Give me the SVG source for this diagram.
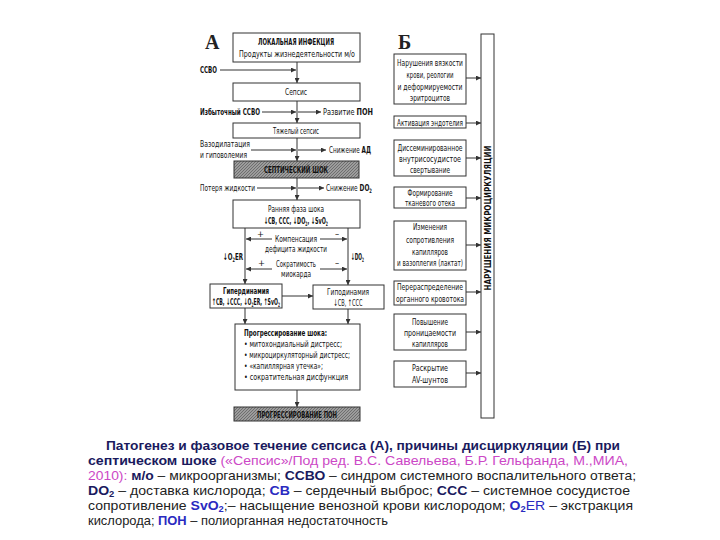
<svg xmlns="http://www.w3.org/2000/svg" width="720" height="540" viewBox="0 0 720 540">
<defs>
<style>
.t{font-family:"Liberation Sans Narrow","Arial Narrow","DejaVu Sans Condensed","Liberation Sans",sans-serif;font-size:9.3px;fill:#111}
.b{font-weight:bold}
.m{text-anchor:middle}
.box{fill:#fff;stroke:#333;stroke-width:1}
.hat{fill:url(#hatch);stroke:#333;stroke-width:1}
.ar{stroke:#333;stroke-width:1;fill:none;marker-end:url(#ah)}
.big{font-family:"Liberation Serif",serif;font-weight:bold;font-size:20px;fill:#222}
.cap{font-family:"Liberation Sans",Arial,sans-serif;font-size:13.5px;fill:#222}
.nv{font-weight:bold;fill:#1a1a5e}
.bl{font-weight:bold;fill:#2a2ac0}
.mg{fill:#cc48c6}
</style>
<marker id="ah" viewBox="0 0 6 6" refX="6" refY="3" markerWidth="5" markerHeight="5" orient="auto" markerUnits="userSpaceOnUse">
<path d="M0,0 L6,3 L0,6 z" fill="#333"/>
</marker>
<pattern id="hatch" patternUnits="userSpaceOnUse" width="3" height="3">
<rect width="3" height="3" fill="#9c9c9c"/>
<path d="M0,3 L3,0" stroke="#6e6e6e" stroke-width="1"/>
</pattern>
</defs>
<rect width="720" height="540" fill="#fff"/>

<text class="big" x="205" y="49">А</text>
<text class="big" x="398" y="49">Б</text>

<g id="connectors">
<line class="ar" x1="297" y1="62" x2="297" y2="83"/>
<line class="ar" x1="297" y1="101" x2="297" y2="123"/>
<line class="ar" x1="297" y1="138" x2="297" y2="161"/>
<line class="ar" x1="297" y1="178" x2="297" y2="200"/>
<line class="ar" x1="220" y1="70" x2="296" y2="70"/>
<line class="ar" x1="262" y1="112" x2="296" y2="112"/>
<line class="ar" x1="298" y1="112" x2="321" y2="112"/>
<line class="ar" x1="251" y1="150" x2="296" y2="150"/>
<line class="ar" x1="298" y1="150" x2="326" y2="150"/>
<line class="ar" x1="257" y1="188" x2="296" y2="188"/>
<line class="ar" x1="298" y1="188" x2="324" y2="188"/>
<line class="ar" x1="245" y1="228" x2="245" y2="284"/>
<line class="ar" x1="348" y1="228" x2="348" y2="285"/>
<line class="ar" x1="272" y1="239" x2="246" y2="239"/>
<line class="ar" x1="320" y1="239" x2="347" y2="239"/>
<line class="ar" x1="272" y1="269" x2="246" y2="269"/>
<line class="ar" x1="320" y1="269" x2="347" y2="269"/>
<line class="ar" x1="282" y1="296" x2="313" y2="296"/>
<line class="ar" x1="245" y1="308" x2="245" y2="324"/>
<line class="ar" x1="348" y1="309" x2="348" y2="324"/>
<line class="ar" x1="297" y1="390" x2="297" y2="407"/>
<line class="ar" x1="466" y1="78" x2="481" y2="78"/>
<line class="ar" x1="466" y1="123" x2="481" y2="123"/>
<line class="ar" x1="466" y1="158" x2="481" y2="158"/>
<line class="ar" x1="466" y1="198" x2="481" y2="198"/>
<line class="ar" x1="466" y1="245" x2="481" y2="245"/>
<line class="ar" x1="466" y1="292" x2="481" y2="292"/>
<line class="ar" x1="466" y1="332" x2="481" y2="332"/>
<line class="ar" x1="466" y1="373" x2="481" y2="373"/>
</g>

<g id="side-labels">
<text class="t b" x="200" y="73" textLength="17" lengthAdjust="spacingAndGlyphs">ССВО</text>
<text class="t b" x="200" y="115" textLength="60" lengthAdjust="spacingAndGlyphs">Избыточный ССВО</text>
<text class="t" x="323" y="115" textLength="50" lengthAdjust="spacingAndGlyphs">Развитие <tspan class="b">ПОН</tspan></text>
<text class="t" x="200" y="147" textLength="50" lengthAdjust="spacingAndGlyphs">Вазодилатация</text>
<text class="t" x="200" y="158" textLength="47" lengthAdjust="spacingAndGlyphs">и гиповолемия</text>
<text class="t" x="329" y="153" textLength="42" lengthAdjust="spacingAndGlyphs">Снижение <tspan class="b">АД</tspan></text>
<text class="t" x="200" y="191" textLength="55" lengthAdjust="spacingAndGlyphs">Потеря жидкости</text>
<text class="t" x="326" y="191" textLength="46" lengthAdjust="spacingAndGlyphs">Снижение <tspan class="b">DO<tspan font-size="6" baseline-shift="-2">2</tspan></tspan></text>
<text class="t" x="257" y="237">+</text>
<text class="t" x="335" y="237">–</text>
<text class="t m" x="296" y="242" textLength="42" lengthAdjust="spacingAndGlyphs">Компенсация</text>
<text class="t m" x="296" y="252" textLength="62" lengthAdjust="spacingAndGlyphs">дефицита жидкости</text>
<text class="t" x="258" y="266">+</text>
<text class="t" x="335" y="266">–</text>
<text class="t m" x="296" y="267" textLength="40" lengthAdjust="spacingAndGlyphs">Сократимость</text>
<text class="t m" x="296" y="277" textLength="30" lengthAdjust="spacingAndGlyphs">миокарда</text>
<text class="t b" x="223" y="260" textLength="20" lengthAdjust="spacingAndGlyphs">↓O<tspan font-size="6" baseline-shift="-2">2</tspan>ER</text>
<text class="t b" x="351" y="260" textLength="13" lengthAdjust="spacingAndGlyphs">↓DO<tspan font-size="6" baseline-shift="-2">2</tspan></text>
</g>

<g id="n-local"><rect class="box" x="233" y="33" width="127" height="29"/>
<text class="t b m" x="296" y="45" textLength="76" lengthAdjust="spacingAndGlyphs">ЛОКАЛЬНАЯ ИНФЕКЦИЯ</text>
<text class="t m" x="297" y="57" textLength="116" lengthAdjust="spacingAndGlyphs">Продукты жизнедеятельности м/о</text></g>
<g id="n-sepsis"><rect class="box" x="233" y="83" width="127" height="18"/>
<text class="t m" x="296" y="95" textLength="22" lengthAdjust="spacingAndGlyphs">Сепсис</text></g>
<g id="n-severe"><rect class="box" x="233" y="123" width="127" height="15"/>
<text class="t m" x="296" y="134" textLength="46" lengthAdjust="spacingAndGlyphs">Тяжелый сепсис</text></g>
<g id="n-shock"><rect class="hat" x="234" y="161" width="125" height="17"/>
<text class="t b m" x="296" y="173" style="fill:#111" textLength="64" lengthAdjust="spacingAndGlyphs">СЕПТИЧЕСКИЙ ШОК</text></g>
<g id="n-early"><rect class="box" x="233" y="200" width="127" height="28"/>
<text class="t m" x="296" y="212" textLength="56" lengthAdjust="spacingAndGlyphs">Ранняя фаза шока</text>
<text class="t b m" x="296" y="224" textLength="64" lengthAdjust="spacingAndGlyphs">↓СВ, ССС, ↓DO<tspan font-size="6" baseline-shift="-2">2</tspan>, ↓SvO<tspan font-size="6" baseline-shift="-2">2</tspan></text></g>
<g id="n-hyper"><rect class="box" x="210" y="284" width="72" height="24"/>
<text class="t b m" x="246" y="294" textLength="46" lengthAdjust="spacingAndGlyphs">Гипердинамия</text>
<text class="t b m" x="246" y="305" textLength="68" lengthAdjust="spacingAndGlyphs">↑СВ, ↓ССС, ↓O<tspan font-size="6" baseline-shift="-2">2</tspan>ER, ↑SvO<tspan font-size="6" baseline-shift="-2">2</tspan></text></g>
<g id="n-hypo"><rect class="box" x="313" y="285" width="71" height="24"/>
<text class="t m" x="348" y="295" textLength="42" lengthAdjust="spacingAndGlyphs">Гиподинамия</text>
<text class="t m" x="348" y="306" textLength="29" lengthAdjust="spacingAndGlyphs">↓СВ, ↑ССС</text></g>
<g id="n-progress"><rect class="box" x="235" y="324" width="125" height="66"/>
<text class="t b" x="244" y="336" textLength="83" lengthAdjust="spacingAndGlyphs">Прогрессирование шока:</text>
<text class="t" x="244" y="347" textLength="98" lengthAdjust="spacingAndGlyphs">• митохондиальный дистресс;</text>
<text class="t" x="244" y="358" textLength="106" lengthAdjust="spacingAndGlyphs">• микроциркуляторный дистресс;</text>
<text class="t" x="244" y="369" textLength="79" lengthAdjust="spacingAndGlyphs">• «капиллярная утечка»;</text>
<text class="t" x="244" y="380" textLength="104" lengthAdjust="spacingAndGlyphs">• сократительная дисфункция</text></g>
<g id="n-pon"><rect class="hat" x="234" y="407" width="126" height="14"/>
<text class="t b m" x="297" y="417.5" style="fill:#111" textLength="80" lengthAdjust="spacingAndGlyphs">ПРОГРЕССИРОВАНИЕ ПОН</text></g>

<g id="n-micro"><rect class="box" x="481" y="34" width="13" height="384"/>
<text class="t b m" transform="translate(491,218) rotate(-90)" textLength="145" lengthAdjust="spacingAndGlyphs">НАРУШЕНИЯ МИКРОЦИРКУЛЯЦИИ</text></g>
<g id="r1"><rect class="box" x="394" y="54" width="72" height="50"/>
<text class="t m" x="430" y="66" textLength="66" lengthAdjust="spacingAndGlyphs">Нарушения вязкости</text>
<text class="t m" x="430" y="78" textLength="47" lengthAdjust="spacingAndGlyphs">крови, реологии</text>
<text class="t m" x="430" y="90" textLength="65" lengthAdjust="spacingAndGlyphs">и деформируемости</text>
<text class="t m" x="430" y="101" textLength="40" lengthAdjust="spacingAndGlyphs">эритроцитов</text></g>
<g id="r2"><rect class="box" x="394" y="116" width="72" height="12"/>
<text class="t m" x="430" y="125.5" textLength="66" lengthAdjust="spacingAndGlyphs">Активация эндотелия</text></g>
<g id="r3"><rect class="box" x="394" y="140" width="72" height="36"/>
<text class="t m" x="430" y="151" textLength="65" lengthAdjust="spacingAndGlyphs">Диссеминированное</text>
<text class="t m" x="430" y="162" textLength="62" lengthAdjust="spacingAndGlyphs">внутрисосудистое</text>
<text class="t m" x="430" y="173" textLength="40" lengthAdjust="spacingAndGlyphs">свертывание</text></g>
<g id="r4"><rect class="box" x="394" y="187" width="72" height="21"/>
<text class="t m" x="430" y="196" textLength="45" lengthAdjust="spacingAndGlyphs">Формирование</text>
<text class="t m" x="430" y="206" textLength="50" lengthAdjust="spacingAndGlyphs">тканевого отека</text></g>
<g id="r5"><rect class="box" x="394" y="221" width="72" height="49"/>
<text class="t m" x="430" y="230" textLength="34" lengthAdjust="spacingAndGlyphs">Изменения</text>
<text class="t m" x="430" y="243" textLength="48" lengthAdjust="spacingAndGlyphs">сопротивления</text>
<text class="t m" x="430" y="255" textLength="36" lengthAdjust="spacingAndGlyphs">капилляров</text>
<text class="t m" x="430" y="266" textLength="66" lengthAdjust="spacingAndGlyphs">и вазоплегия (лактат)</text></g>
<g id="r6"><rect class="box" x="394" y="281" width="72" height="24"/>
<text class="t m" x="430" y="290" textLength="66" lengthAdjust="spacingAndGlyphs">Перераспределение</text>
<text class="t m" x="430" y="302" textLength="68" lengthAdjust="spacingAndGlyphs">органного кровотока</text></g>
<g id="r7"><rect class="box" x="394" y="314" width="72" height="36"/>
<text class="t m" x="430" y="325" textLength="36" lengthAdjust="spacingAndGlyphs">Повышение</text>
<text class="t m" x="430" y="336" textLength="52" lengthAdjust="spacingAndGlyphs">проницаемости</text>
<text class="t m" x="430" y="347" textLength="36" lengthAdjust="spacingAndGlyphs">капилляров</text></g>
<g id="r8"><rect class="box" x="394" y="361" width="72" height="26"/>
<text class="t m" x="430" y="371" textLength="36" lengthAdjust="spacingAndGlyphs">Раскрытие</text>
<text class="t m" x="430" y="383" textLength="36" lengthAdjust="spacingAndGlyphs">AV-шунтов</text></g>

<g id="caption">
<text class="cap nv" x="106" y="450" textLength="514" lengthAdjust="spacingAndGlyphs">Патогенез и фазовое течение сепсиса (А), причины дисциркуляции (Б) при</text>
<text class="cap" x="88" y="465" textLength="540" lengthAdjust="spacingAndGlyphs"><tspan class="nv">септическом шоке</tspan><tspan class="mg"> («Сепсис»/Под ред. В.С. Савельева, Б.Р. Гельфанда, М.,МИА,</tspan></text>
<text class="cap" x="88" y="480" textLength="548" lengthAdjust="spacingAndGlyphs"><tspan class="mg">2010): </tspan><tspan class="nv">м/о</tspan> – микроорганизмы; <tspan class="nv">ССВО</tspan> – синдром системного воспалительного ответа;</text>
<text class="cap" x="88" y="495" textLength="542" lengthAdjust="spacingAndGlyphs"><tspan class="nv">DO<tspan font-size="9" baseline-shift="-2">2</tspan></tspan> – доставка кислорода; <tspan class="bl">СВ</tspan> – сердечный выброс; <tspan class="nv">ССС</tspan> – системное сосудистое</text>
<text class="cap" x="88" y="510" textLength="545" lengthAdjust="spacingAndGlyphs">сопротивление <tspan class="bl">SvO<tspan font-size="9" baseline-shift="-2">2</tspan></tspan>;– насыщение венозной крови кислородом; <tspan class="bl">O<tspan font-size="9" baseline-shift="-2">2</tspan></tspan><tspan fill="#2a2ac0">ER</tspan> – экстракция</text>
<text class="cap" x="88" y="525" textLength="300" lengthAdjust="spacingAndGlyphs">кислорода; <tspan class="bl">ПОН</tspan> – полиорганная недостаточность</text>
</g>
</svg>
